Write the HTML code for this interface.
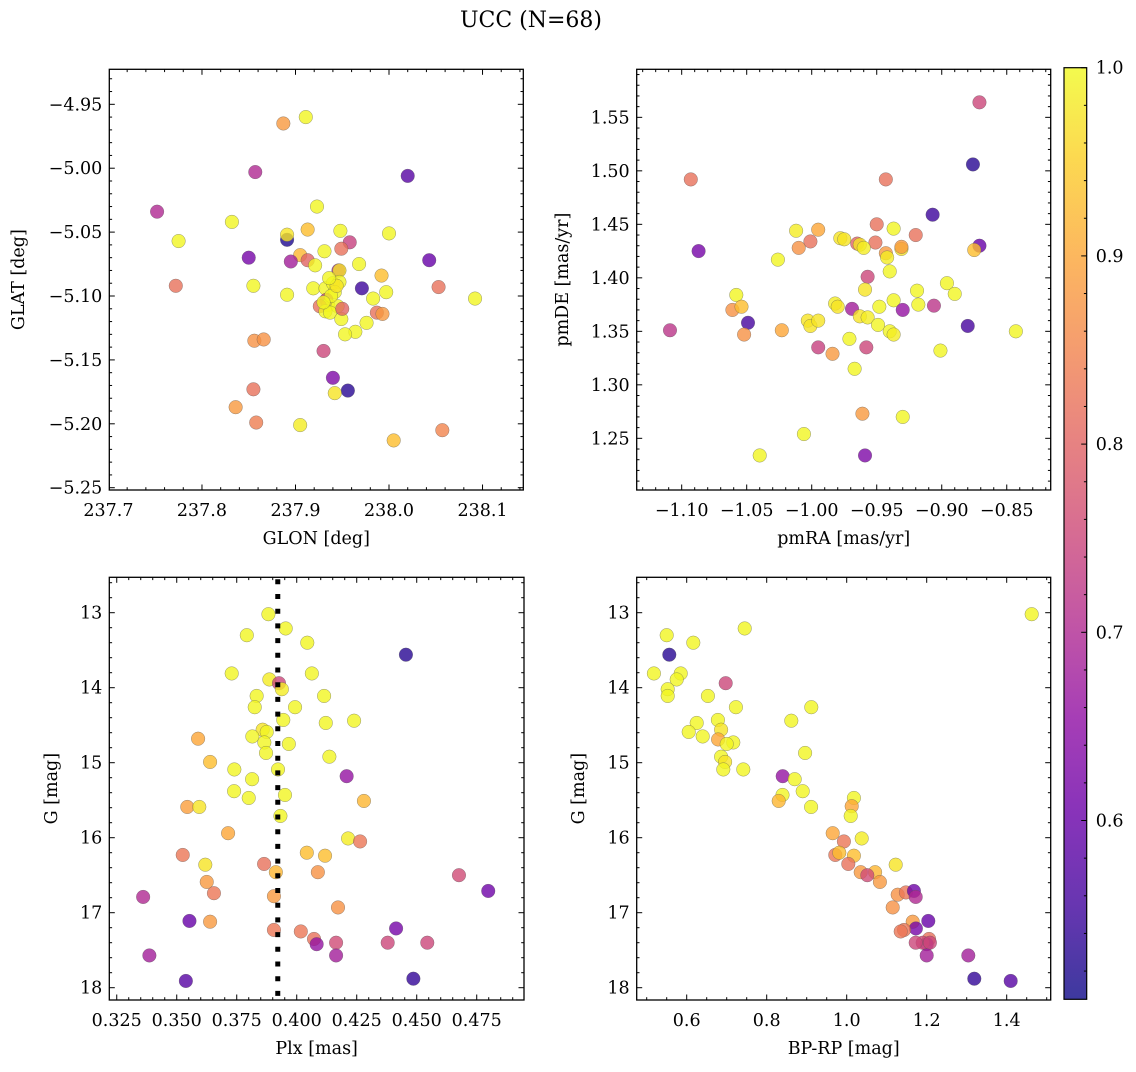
<!DOCTYPE html>
<html><head><meta charset="utf-8"><title>UCC (N=68)</title>
<style>
html,body{margin:0;padding:0;background:#fff;}
svg text{font-family:"DejaVu Serif","Liberation Serif",serif;fill:#000;}
</style></head>
<body>
<svg id="fig" xmlns="http://www.w3.org/2000/svg" width="1136" height="1067" viewBox="0 0 1136 1067">
<rect x="0" y="0" width="1136" height="1067" fill="#fff"/>
<text x="531" y="27" font-size="22" text-anchor="middle">UCC (N=68)</text>
</svg>
<script>
// ---- Panel TL: GLON vs GLAT
const tlLon=[237.911,237.887,237.857,238.020,237.752,237.923,237.832,237.775,237.891,237.891,237.913,237.948,238.000,237.958,237.949,237.850,237.931,237.905,237.913,237.895,237.921,238.043,237.968,237.946,237.947,237.992,237.772,237.855,238.053,237.971,237.997,238.092,237.891,237.983,237.919,237.932,237.940,237.947,237.942,237.933,237.935,237.926,237.945,237.932,237.937,237.949,237.987,237.993,237.976,237.964,237.953,237.856,237.866,237.930,237.940,237.956,237.942,237.855,237.836,237.858,237.905,238.057,238.005,237.938,237.930,237.944,237.950,237.936];
const tlLat=[-4.960,-4.965,-5.003,-5.006,-5.034,-5.030,-5.042,-5.057,-5.056,-5.052,-5.048,-5.049,-5.051,-5.058,-5.063,-5.070,-5.065,-5.068,-5.072,-5.073,-5.076,-5.072,-5.075,-5.080,-5.080,-5.084,-5.092,-5.092,-5.093,-5.094,-5.097,-5.102,-5.099,-5.102,-5.094,-5.094,-5.090,-5.089,-5.097,-5.103,-5.107,-5.108,-5.108,-5.112,-5.113,-5.118,-5.113,-5.114,-5.121,-5.128,-5.130,-5.135,-5.134,-5.143,-5.164,-5.174,-5.176,-5.173,-5.187,-5.199,-5.201,-5.205,-5.213,-5.100,-5.105,-5.092,-5.110,-5.086];
const tlProb=[0.995,0.88,0.70,0.58,0.70,0.995,0.995,0.995,0.52,0.975,0.93,0.995,0.995,0.74,0.82,0.62,0.995,0.92,0.80,0.68,0.995,0.60,0.995,0.68,0.975,0.93,0.82,0.995,0.82,0.55,0.995,0.995,0.995,0.995,0.995,0.995,0.995,0.995,0.995,0.75,0.995,0.82,0.995,0.995,0.995,0.995,0.82,0.88,0.995,0.995,0.995,0.87,0.87,0.75,0.63,0.53,0.975,0.82,0.88,0.84,0.985,0.85,0.93,0.995,0.995,0.975,0.80,0.995];
// ---- Panel TR: pmRA vs pmDE
const trRA=[-0.871,-0.876,-1.093,-0.943,-0.907,-0.950,-0.937,-1.012,-0.995,-0.920,-0.978,-1.001,-0.965,-0.963,-0.951,-0.960,-1.010,-0.871,-0.875,-0.931,-0.931,-0.943,-0.942,-1.087,-1.026,-0.940,-0.957,-0.896,-0.959,-0.919,-0.890,-1.058,-0.982,-0.980,-0.937,-0.918,-0.948,-0.906,-0.930,-0.969,-1.061,-1.054,-0.963,-0.957,-1.003,-1.001,-0.949,-0.940,-0.937,-1.049,-1.109,-1.023,-0.880,-0.843,-1.052,-0.971,-0.995,-0.958,-0.984,-0.901,-0.967,-0.961,-0.930,-1.006,-1.040,-0.959,-0.975,-0.995];
const trDE=[1.564,1.506,1.492,1.492,1.459,1.450,1.446,1.444,1.445,1.440,1.437,1.434,1.432,1.431,1.433,1.428,1.428,1.430,1.426,1.427,1.429,1.423,1.419,1.425,1.417,1.406,1.401,1.395,1.389,1.388,1.385,1.384,1.376,1.373,1.379,1.375,1.373,1.374,1.370,1.371,1.370,1.373,1.364,1.363,1.360,1.355,1.356,1.350,1.347,1.358,1.351,1.351,1.355,1.350,1.347,1.343,1.335,1.335,1.329,1.332,1.315,1.273,1.270,1.254,1.234,1.234,1.436,1.360];
const trProb=[0.75,0.53,0.82,0.82,0.55,0.82,0.995,0.985,0.90,0.82,0.975,0.82,0.80,0.975,0.82,0.985,0.87,0.60,0.93,0.975,0.88,0.88,0.985,0.62,0.995,0.995,0.75,0.995,0.975,0.995,0.995,0.995,0.985,0.975,0.995,0.995,0.995,0.72,0.66,0.68,0.87,0.93,0.975,0.985,0.975,0.975,0.995,0.995,0.985,0.56,0.72,0.90,0.56,0.995,0.87,0.995,0.74,0.75,0.88,0.995,0.995,0.88,0.995,0.995,0.995,0.63,0.975,0.975];
// ---- Panel BL: Plx vs G
const blPlx=[0.3882,0.3954,0.3792,0.4044,0.4455,0.3729,0.4063,0.3886,0.3926,0.3938,0.3833,0.4114,0.3825,0.3993,0.3944,0.4121,0.4239,0.3858,0.3875,0.3815,0.3865,0.3967,0.3872,0.3589,0.4136,0.3639,0.3740,0.3922,0.4208,0.3814,0.3739,0.3951,0.3800,0.4280,0.3544,0.3594,0.3932,0.3714,0.4214,0.4264,0.3525,0.4042,0.4118,0.3619,0.3864,0.3913,0.4088,0.4676,0.3625,0.3655,0.3360,0.3905,0.4798,0.4172,0.3553,0.3639,0.4414,0.3905,0.4017,0.4072,0.4083,0.4164,0.4379,0.4544,0.3386,0.4164,0.3538,0.4486];
const blG=[13.02,13.21,13.30,13.40,13.56,13.81,13.81,13.89,13.94,14.02,14.11,14.11,14.26,14.26,14.43,14.47,14.44,14.56,14.59,14.65,14.73,14.75,14.87,14.68,14.92,14.99,15.09,15.09,15.18,15.22,15.38,15.43,15.47,15.51,15.59,15.59,15.71,15.94,16.01,16.05,16.23,16.20,16.24,16.36,16.35,16.46,16.46,16.50,16.59,16.74,16.79,16.78,16.71,16.93,17.11,17.12,17.21,17.23,17.25,17.35,17.42,17.40,17.40,17.40,17.57,17.57,17.91,17.88];
const blProb=[0.995,0.995,0.995,0.995,0.53,0.995,0.995,0.985,0.75,0.985,0.995,0.995,0.995,0.995,0.995,0.995,0.995,0.975,0.995,0.995,0.995,0.995,0.995,0.90,0.995,0.93,0.995,0.995,0.66,0.995,0.995,0.995,0.995,0.92,0.89,0.975,0.995,0.90,0.985,0.83,0.83,0.93,0.93,0.975,0.82,0.92,0.87,0.76,0.88,0.83,0.70,0.88,0.61,0.87,0.60,0.88,0.62,0.83,0.83,0.82,0.66,0.76,0.75,0.75,0.68,0.68,0.58,0.54];
const plxMean=0.3921;
// ---- Panel BR: BP-RP vs G
const brCol=[1.4625,0.550,0.745,0.6165,0.5565,0.518,0.585,0.575,0.6975,0.5525,0.5525,0.653,0.723,0.9115,0.8615,0.625,0.678,0.605,0.686,0.640,0.6785,0.7165,0.700,0.896,0.686,0.696,0.6915,0.7415,0.840,0.870,0.890,0.8395,0.830,0.911,1.018,1.0125,1.010,0.965,1.0375,0.993,0.9715,0.9815,1.018,1.1225,1.004,1.035,1.071,1.0515,1.083,1.1275,1.148,1.168,1.1725,1.115,1.204,1.165,1.173,1.1433,1.135,1.2058,1.200,1.190,1.1725,1.208,1.304,1.200,1.410,1.319];
const brG=[13.02,13.30,13.21,13.40,13.56,13.81,13.81,13.89,13.94,14.02,14.11,14.11,14.26,14.26,14.44,14.47,14.43,14.59,14.56,14.65,14.69,14.73,14.75,14.87,14.92,14.99,15.09,15.09,15.18,15.22,15.38,15.43,15.51,15.59,15.47,15.58,15.71,15.94,16.01,16.05,16.23,16.20,16.24,16.36,16.35,16.46,16.46,16.50,16.59,16.76,16.73,16.71,16.79,16.93,17.11,17.12,17.21,17.23,17.25,17.35,17.42,17.40,17.40,17.40,17.57,17.57,17.91,17.88];
const brProb=[0.995,0.995,0.995,0.995,0.53,0.995,0.995,0.995,0.75,0.995,0.995,0.995,0.995,0.995,0.995,0.995,0.995,0.995,0.975,0.995,0.90,0.995,0.995,0.995,0.995,0.975,0.995,0.995,0.66,0.995,0.995,0.995,0.92,0.995,0.995,0.90,0.995,0.90,0.985,0.83,0.83,0.93,0.93,0.975,0.82,0.88,0.92,0.76,0.88,0.87,0.83,0.61,0.70,0.87,0.60,0.88,0.62,0.83,0.83,0.82,0.66,0.76,0.75,0.75,0.68,0.68,0.58,0.54];
// ---- tick values
const tlXTicks=[237.7,237.8,237.9,238.0,238.1];
const tlYTicks=[-4.95,-5.00,-5.05,-5.10,-5.15,-5.20,-5.25];
const trXTicks=[-1.10,-1.05,-1.00,-0.95,-0.90,-0.85];
const trYTicks=[1.25,1.30,1.35,1.40,1.45,1.50,1.55];
const blXTicks=[0.325,0.350,0.375,0.400,0.425,0.450,0.475];
const gTicks=[13,14,15,16,17,18];
const brXTicks=[0.6,0.8,1.0,1.2,1.4];
const cbTicks=[0.6,0.7,0.8,0.9,1.0];
const vmin=0.505, vmax=1.0;

const NS="http://www.w3.org/2000/svg";
const svg=document.getElementById('fig');
const PL=[[13,8,135],[65,4,157],[106,0,168],[143,13,164],[177,42,144],[204,71,120],[225,100,98],[242,132,75],[252,166,54],[252,206,37],[240,249,33]];
function cmap(t){t=Math.max(0,Math.min(1,t));const s=t*10;const i=Math.min(9,Math.floor(s));const f=s-i;
 const a=PL[i],b=PL[i+1];return 'rgb('+[0,1,2].map(k=>Math.round(a[k]+(b[k]-a[k])*f)).join(',')+')';}
function mk(tag,attrs,parent){const e=document.createElementNS(NS,tag);for(const k in attrs)e.setAttribute(k,attrs[k]);(parent||svg).appendChild(e);return e;}
function fmt(v,d){const s=Math.abs(v).toFixed(d);return (v<-1e-9?'\u2212':'')+s;}

function panel(o){
 const g=mk('g',{});
 
 
 const X=v=>o.x0+(v-o.xd[0])/(o.xd[1]-o.xd[0])*(o.x1-o.x0);
 const Y=o.yinv? (v=>o.y0+(v-o.yd[0])/(o.yd[1]-o.yd[0])*(o.y1-o.y0)) : (v=>o.y1-(v-o.yd[0])/(o.yd[1]-o.yd[0])*(o.y1-o.y0));
 const tg=mk('g',{stroke:'#000','stroke-width':1},g);
 
 
 function xt(v,len){const p=X(v);if(p<o.x0-0.5||p>o.x1+0.5)return;mk('line',{x1:p,x2:p,y1:o.y1,y2:o.y1-len},tg);mk('line',{x1:p,x2:p,y1:o.y0,y2:o.y0+len},tg);}
 function yt(v,len){const p=Y(v);if(p<o.y0-0.5||p>o.y1+0.5)return;mk('line',{y1:p,y2:p,x1:o.x0,x2:o.x0+len},tg);mk('line',{y1:p,y2:p,x1:o.x1,x2:o.x1-len},tg);}
 const xs=o.xt[1]-o.xt[0], ys=Math.abs(o.yt[1]-o.yt[0]);
 for(let k=-o.xm*2;k<=(o.xt.length+1)*o.xm;k++){const v=o.xt[0]+k*xs/o.xm;if(k%o.xm!==0)xt(v,2.8);}
 for(let k=-o.ym*2;k<=(o.yt.length+1)*o.ym;k++){const v=Math.min(...o.yt)+k*ys/o.ym;if(k%o.ym!==0)yt(v,2.8);}
 o.xt.forEach(v=>xt(v,5.5)); o.yt.forEach(v=>yt(v,5.5));
 o.xt.forEach(v=>{const t=mk('text',{x:X(v),y:o.y1+26,'font-size':17.5,'text-anchor':'middle'},g);t.textContent=fmt(v,o.xd2);
  
  });
 o.yt.forEach(v=>{const t=mk('text',{x:o.x0-7,y:Y(v)+6,'font-size':17.5,'text-anchor':'end'},g);t.textContent=fmt(v,o.yd2);
  
  });
 const xl=mk('text',{x:(o.x0+o.x1)/2,y:o.y1+54,'font-size':17.5,'text-anchor':'middle'},g);xl.textContent=o.xlab;
 
 
 const yl=mk('text',{x:0,y:0,'font-size':17.5,'text-anchor':'middle',transform:'translate('+o.ylx+','+((o.y0+o.y1)/2)+') rotate(-90)'},g);yl.textContent=o.ylab;
 
 
 const cid='c'+o.name;const cp=mk('clipPath',{id:cid},g);mk('rect',{x:o.x0,y:o.y0,width:o.x1-o.x0,height:o.y1-o.y0},cp);
 const pg=mk('g',{'clip-path':'url(#'+cid+')'},g);
 
 
 for(let i=0;i<o.xs.length;i++){
  const c=mk('circle',{cx:X(o.xs[i]),cy:Y(o.ys[i]),r:6.8,fill:cmap((o.ps[i]-vmin)/(vmax-vmin)),'fill-opacity':0.8,stroke:'#555','stroke-opacity':0.6,'stroke-width':0.5},pg);
  
  
 }
 if(o.vline!==undefined){
  const l=mk('line',{x1:X(o.vline),x2:X(o.vline),y1:o.y0+2,y2:o.y1,stroke:'#000','stroke-width':5,'stroke-dasharray':'5,9.7'},pg);
  
  
 }
 const fr=mk('rect',{x:o.x0,y:o.y0,width:o.x1-o.x0,height:o.y1-o.y0,fill:'none',stroke:'#000','stroke-width':1.3},g);
 
 
}

panel({name:'glon-glat-panel',x0:109.3,x1:523.3,y0:69.3,y1:490,xd:[237.7009,238.1436],yd:[-5.2518,-4.9226],xt:tlXTicks,yt:tlYTicks,xm:5,ym:5,xd2:1,yd2:2,xs:tlLon,ys:tlLat,ps:tlProb,xlab:'GLON [deg]',ylab:'GLAT [deg]',ylx:24});
panel({name:'pm-panel',x0:636.7,x1:1050.7,y0:69.3,y1:490,xd:[-1.1346,-0.8162],yd:[1.2017,1.5949],xt:trXTicks,yt:trYTicks,xm:5,ym:5,xd2:2,yd2:2,xs:trRA,ys:trDE,ps:trProb,xlab:'pmRA [mas/yr]',ylab:'pmDE [mas/yr]',ylx:568});
panel({name:'plx-g-panel',x0:109.3,x1:524,y0:577.3,y1:1000,xd:[0.3219,0.4947],yd:[12.528,18.164],yinv:true,xt:blXTicks,yt:gTicks,xm:5,ym:5,xd2:3,yd2:0,xs:blPlx,ys:blG,ps:blProb,xlab:'Plx [mas]',ylab:'G [mag]',ylx:57,vline:plxMean});
panel({name:'cmd-panel',x0:636.7,x1:1050.7,y0:577.3,y1:1000,xd:[0.475,1.51],yd:[12.528,18.164],yinv:true,xt:brXTicks,yt:gTicks,xm:4,ym:5,xd2:1,yd2:0,xs:brCol,ys:brG,ps:brProb,xlab:'BP-RP [mag]',ylab:'G [mag]',ylx:584});

(function(){
 const cx0=1064,cx1=1086.7,cy0=67.7,cy1=999.3;
 const cg=mk('g',{});
 
 
 const defs=mk('defs',{},cg);const lg=mk('linearGradient',{id:'plg',x1:0,y1:1,x2:0,y2:0},defs);
 for(let i=0;i<=20;i++){mk('stop',{offset:i/20,'stop-color':cmap(i/20)},lg);}
 mk('rect',{x:cx0,y:cy0,width:cx1-cx0,height:cy1-cy0,fill:'url(#plg)','fill-opacity':0.8},cg);
 const Yc=v=>cy1-(v-vmin)/(vmax-vmin)*(cy1-cy0);
 for(let v=0.52;v<=1.0001;v+=0.02){const p=Yc(v);const major=Math.abs(v*10-Math.round(v*10))<1e-6;
  mk('line',{x1:cx1,x2:cx1-(major?5.5:2.8),y1:p,y2:p,stroke:'#000','stroke-width':1},cg);}
 cbTicks.forEach(v=>{const t=mk('text',{x:cx1+9,y:Yc(v)+6,'font-size':17.5},cg);t.textContent=v.toFixed(1);
  
  });
 mk('rect',{x:cx0,y:cy0,width:cx1-cx0,height:cy1-cy0,fill:'none',stroke:'#000','stroke-width':1.2},cg);
})();
</script>
</body></html>
